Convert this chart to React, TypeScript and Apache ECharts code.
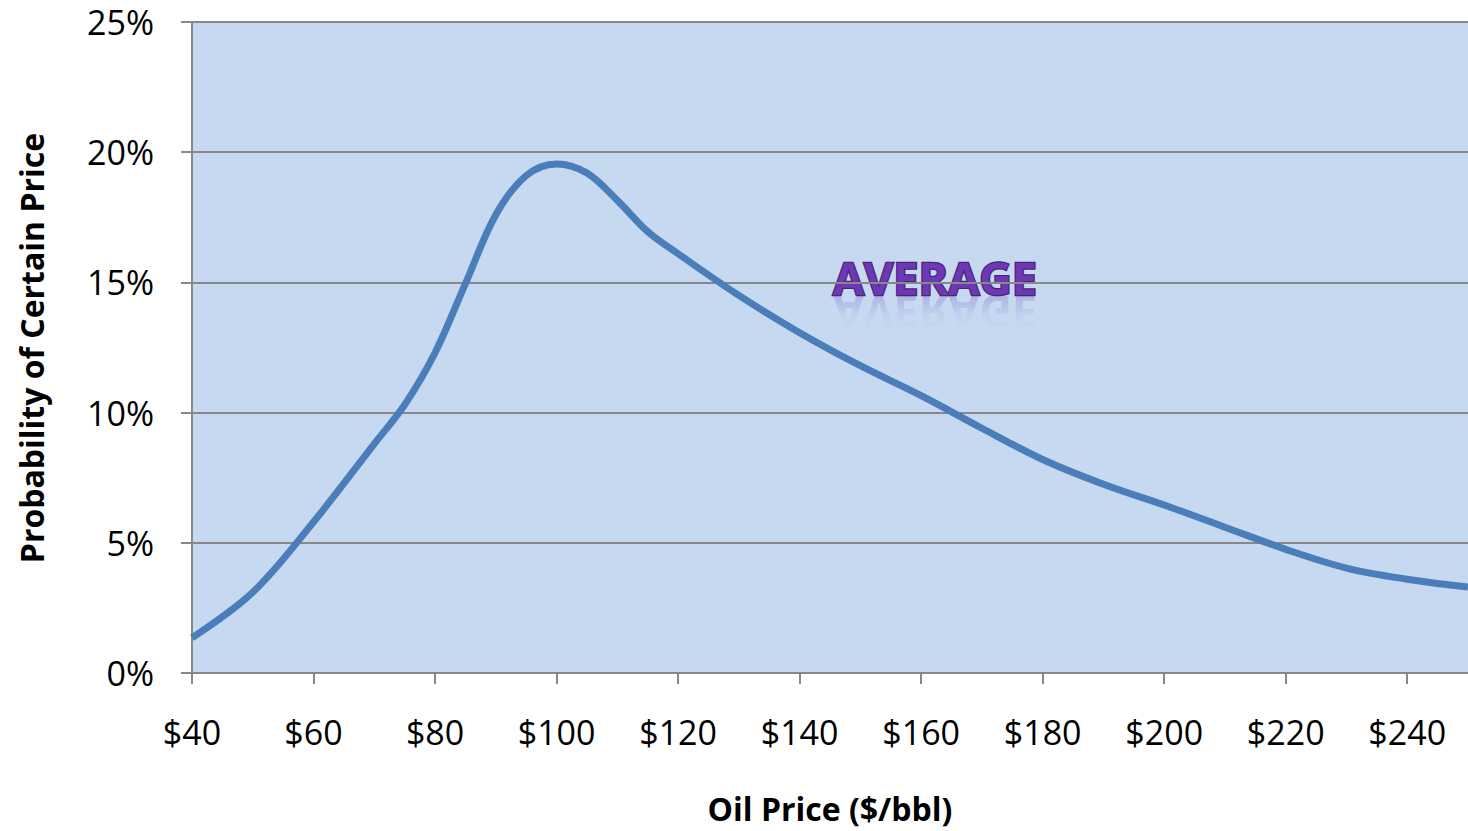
import { useEffect, useRef } from "react";
import * as echarts from "echarts";

// Oil price ($/bbl) and probability (%) of that price
const prices = [40, 50, 60, 70, 75, 80, 85, 90, 95, 100, 105, 110, 115, 120, 130, 140, 150, 160, 170, 180, 190, 200, 210, 220, 230, 240, 250];
const probabilities = [1.35, 3.1, 5.8, 8.8, 10.3, 12.3, 14.95, 17.6, 19.1, 19.55, 19.2, 18.15, 16.95, 16.1, 14.5, 13.07, 11.8, 10.65, 9.4, 8.2, 7.25, 6.45, 5.6, 4.75, 4.03, 3.6, 3.3];

// Axis ranges
const priceRange = { min: 40, max: 250, step: 20 };
const probabilityRange = { min: 0, max: 25, step: 5 };

const xTitle = "Oil Price ($/bbl)";
const yTitle = "Probability of Certain Price";
const annotation = "AVERAGE";

const FONT = "'Open Sans', 'Noto Sans', sans-serif";
const GRAY = "#888888";
const PLOT_BG = "#C6D9F0";

export default function App() {
  const ref = useRef<HTMLDivElement>(null);

  useEffect(() => {
    if (!ref.current) return;
    const chart = echarts.init(ref.current, undefined, { renderer: "svg" });

    const gridLeft = 192;
    const gridTop = 22;
    const gridWidth = 1278;
    const gridHeight = 651;

    chart.setOption({
      animation: false,
      backgroundColor: "#ffffff",
      grid: {
        left: gridLeft,
        top: gridTop,
        width: gridWidth,
        height: gridHeight,
        show: true,
        backgroundColor: PLOT_BG,
        borderWidth: 0,
      },
      xAxis: {
        type: "value",
        min: priceRange.min,
        max: priceRange.max,
        interval: priceRange.step,
        axisLine: { show: true, lineStyle: { color: GRAY, width: 2 } },
        axisTick: { show: true, inside: false, length: 11, lineStyle: { color: GRAY, width: 2 } },
        splitLine: { show: false },
        axisLabel: {
          showMaxLabel: false,
          margin: 42,
          color: "#000",
          fontSize: 34,
          fontFamily: FONT,
          formatter: (v: number) => "$" + v,
        },
      },
      yAxis: {
        type: "value",
        min: probabilityRange.min,
        max: probabilityRange.max,
        interval: probabilityRange.step,
        axisLine: { show: true, lineStyle: { color: GRAY, width: 2 } },
        axisTick: { show: true, inside: false, length: 11, lineStyle: { color: GRAY, width: 2 } },
        splitLine: { show: true, lineStyle: { color: GRAY, width: 2 } },
        axisLabel: {
          margin: 38,
          color: "#000",
          fontSize: 34,
          fontFamily: FONT,
          formatter: (v: number) => v + "%",
        },
      },
      series: [
        {
          type: "line",
          data: prices.map((p, i) => [p, probabilities[i]]),
          smooth: 0.35,
          showSymbol: false,
          lineStyle: { color: "#4A7EBB", width: 7 },
          clip: true,
        },
      ],
      graphic: [
        {
          type: "text",
          x: 31,
          y: 348,
          rotation: Math.PI / 2,
          style: {
            text: yTitle,
            fontFamily: FONT,
            fontWeight: "bold",
            fontSize: 32,
            fill: "#000",
            align: "center",
            verticalAlign: "middle",
          },
        },
        {
          type: "text",
          x: 830,
          y: 808,
          style: {
            text: xTitle,
            fontFamily: FONT,
            fontWeight: "bold",
            fontSize: 32,
            fill: "#000",
            align: "center",
            verticalAlign: "middle",
          },
        },
        // mirrored copy of the label below its baseline
        {
          type: "group",
          x: 935,
          y: 295,
          scaleY: -1,
          children: [
            {
              type: "text",
              x: 0,
              y: -17,
              style: {
                text: annotation,
                fontFamily: FONT,
                fontWeight: "bold",
                fontSize: 45,
                align: "center",
                verticalAlign: "middle",
                fill: "rgba(120,95,200,0.35)",
              },
            },
          ],
        },
        // fade the mirrored copy into the plot background
        {
          type: "rect",
          shape: { x: 825, y: 296, width: 220, height: 40 },
          style: {
            fill: new echarts.graphic.LinearGradient(0, 0, 0, 1, [
              { offset: 0, color: "rgba(198,217,240,0.1)" },
              { offset: 0.5, color: "rgba(198,217,240,0.85)" },
              { offset: 1, color: "rgba(198,217,240,1)" },
            ]),
          },
        },
        {
          type: "text",
          x: 935,
          y: 277,
          style: {
            text: annotation,
            fontFamily: FONT,
            fontWeight: "bold",
            fontSize: 45,
            align: "center",
            verticalAlign: "middle",
            fill: "#6C38B4",
            stroke: "#4B2475",
            lineWidth: 2.5,
          },
        },
      ],
    });

    return () => chart.dispose();
  }, []);

  return (
    <div
      ref={ref}
      style={{ position: "fixed", left: 0, top: 0, width: 1468, height: 831, background: "#fff" }}
    />
  );
}
